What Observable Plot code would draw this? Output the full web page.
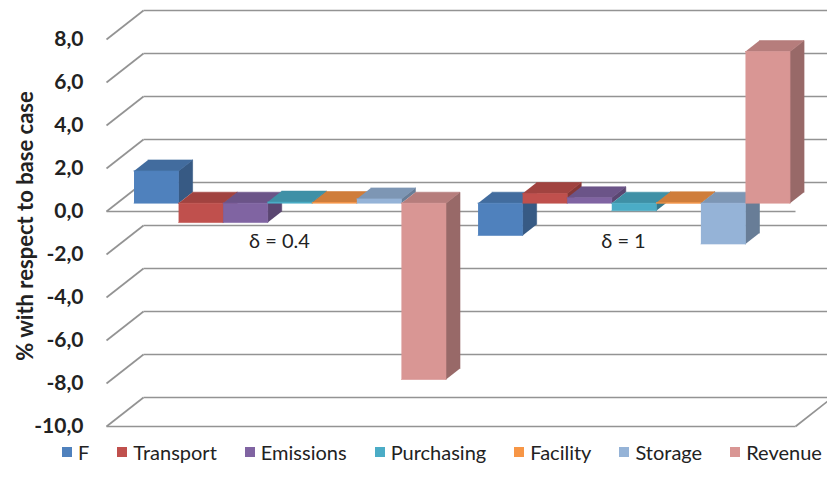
<!DOCTYPE html>
<html><head><meta charset="utf-8">
<script src="https://cdn.jsdelivr.net/npm/d3@7"></script>
<script src="https://cdn.jsdelivr.net/npm/@observablehq/plot@0.6"></script>
<style>
body{margin:0;background:#fff;font-family:Lato,"Open Sans",sans-serif;}
#chart svg{display:block;}
#legend{display:flex;align-items:center;height:32px;padding-left:62px;font-size:20px;color:#222;white-space:nowrap;}
#legend .item{display:flex;align-items:center;margin-right:28px;}
#legend .sw{width:10px;height:10px;margin-right:6px;}
</style></head><body><div id="chart"></div><div id="legend"></div>
<script>
// ---- data ----
const series = ["F","Transport","Emissions","Purchasing","Facility","Storage","Revenue"];
const groups = ["δ = 0.4","δ = 1"];
const valuesD04 = [1.5,-0.9,-0.9,0.05,0.03,0.2,-8.2];
const valuesD1 = [-1.5,0.45,0.25,-0.35,0.02,-1.9,7.05];
const colors = ["#4F81BD","#C0504D","#8064A2","#4BACC6","#F79646","#95B3D7","#D99694"];
const yTicks = [-10,-8,-6,-4,-2,0,2,4,6,8];
const floorTicks = [0,-10];

// ---- 3D layout (in scale units) ----
const W = 15.46, Dx = 0.83, Dy = 1.35, d0 = 0.286, d1 = 0.665;
const padL = 0.38, gapMid = 0.72;
const groupStart = [padL, padL + series.length + gapMid];
const P = (x, y, t) => ({x: x + t*Dx, y: y + t*Dy});

const verts = [];
let pid = 0;
const poly = (fill, pts) => { const k = pid++; pts.forEach(p => verts.push({id:k, fill, x:p.x, y:p.y})); };
[valuesD04, valuesD1].forEach((vals, g) => {
  vals.forEach((v, i) => {
    const x0 = groupStart[g] + i, x1 = x0 + 1;
    const lo = Math.min(0, v), hi = Math.max(0, v);
    const c = d3.color(colors[i]);
    poly(c.darker(1).formatHex(), [P(x1,lo,d0), P(x1,hi,d0), P(x1,hi,d1), P(x1,lo,d1)]);
    poly(c.darker(0.5).formatHex(), [P(x0,hi,d0), P(x1,hi,d0), P(x1,hi,d1), P(x0,hi,d1)]);
    poly(colors[i], [P(x0,lo,d0), P(x1,lo,d0), P(x1,hi,d0), P(x0,hi,d0)]);
  });
});

const grid = {stroke:"#939393", strokeWidth:1.7};
const chart = Plot.plot({
  width: 827, height: 436,
  marginLeft: 106, marginRight: 32, marginTop: 39, marginBottom: 10,
  x: {domain: [0, W], axis: null},
  y: {domain: [-10, 8]},
  color: {type: "identity"},
  style: {fontFamily: "Lato, 'Open Sans', sans-serif", fontSize: "20px", color: "#222", background: "#fff"},
  marks: [
    Plot.link(yTicks, {x1: () => 0, y1: d => d, x2: () => Dx, y2: d => d + Dy, ...grid}),
    Plot.link(yTicks, {x1: () => Dx, y1: d => d + Dy, x2: () => W + Dx, y2: d => d + Dy, ...grid}),
    Plot.link(floorTicks, {x1: () => 0, y1: d => d, x2: () => W, y2: d => d, ...grid}),
    Plot.link([-10], {x1: () => W, y1: d => d, x2: () => W + Dx, y2: d => d + Dy, ...grid}),
    Plot.line(verts, {x: "x", y: "y", z: "id", fill: "fill", stroke: "fill", strokeWidth: 0.6}),
    Plot.axisY({ticks: yTicks, tickSize: 0, tickPadding: 23, label: null,
      tickFormat: d => d.toFixed(1).replace(".", ","), fontWeight: "bold", fontSize: 21, fill: "#222"}),
    Plot.text(groups, {x: (d, i) => groupStart[i] + series.length/2, y: () => 0, dy: 30,
      text: d => d, fontSize: 20, fill: "#222", lineAnchor: "middle"}),
    Plot.text(["% with respect to base case"], {frameAnchor: "left", textAnchor: "middle", rotate: -90,
      dx: -81, dy: -7, fontWeight: "bold", fontSize: 22, fill: "#222", lineAnchor: "middle"})
  ]
});
document.getElementById("chart").append(chart);

const legend = document.getElementById("legend");
series.forEach((s, i) => {
  const item = document.createElement("span"); item.className = "item";
  const sw = document.createElement("span"); sw.className = "sw"; sw.style.background = colors[i];
  const t = document.createElement("span"); t.textContent = s;
  item.append(sw, t); legend.append(item);
});
</script></body></html>
